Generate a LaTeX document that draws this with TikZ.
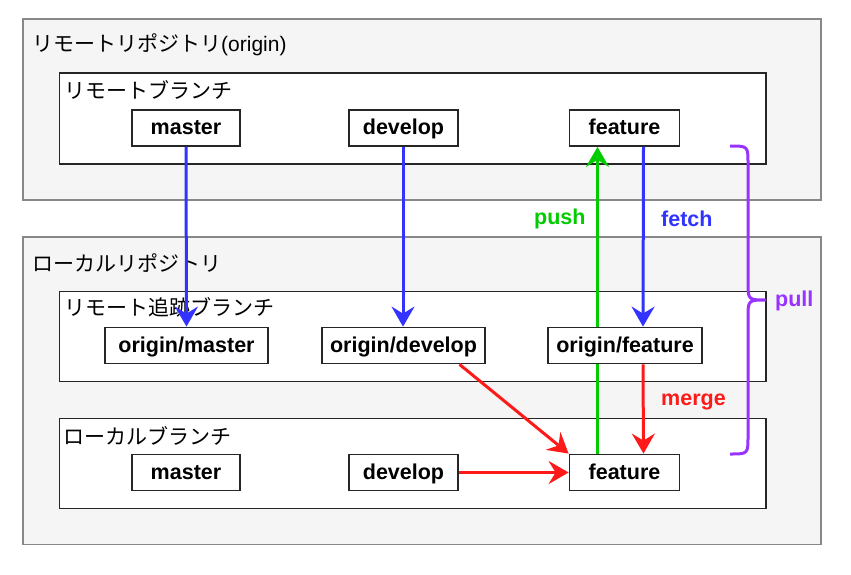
\documentclass[tikz,border=0pt]{standalone}
\usepackage{fontspec}
\setmainfont{Liberation Sans}
\newfontfamily\jp{Noto Sans CJK JP}
\usetikzlibrary{arrows.meta,calc}
\definecolor{cgreen}{HTML}{00CC00}
\definecolor{cblue}{HTML}{3333FF}
\definecolor{cred}{HTML}{FF1A1A}
\definecolor{cpurple}{HTML}{9933FF}
\definecolor{cgrayfill}{HTML}{F5F5F5}
\definecolor{cgrayline}{HTML}{888888}
\pgfdeclarelayer{bg}
\pgfdeclarelayer{mid}
\pgfsetlayers{bg,mid,main}
\tikzset{
  repo/.style={draw=cgrayline,fill=cgrayfill,line width=1.6pt},
  group/.style={draw=black!85,fill=white,line width=1.8pt},
  branch/.style={draw=black!85,fill=white,line width=1.8pt,minimum height=36pt,
    inner sep=0pt,text height=17pt,text depth=3pt,
    font=\fontsize{21.5}{25}\selectfont\bfseries},
  title/.style={anchor=west,inner sep=0pt,font=\fontsize{21}{25}\selectfont},
  lbl/.style={anchor=west,inner sep=0pt,font=\fontsize{21.5}{25}\selectfont\bfseries},
  conn/.style={line width=3pt,-{Stealth[length=20pt,width=23pt,inset=7pt]}},
}
\begin{document}
\begin{tikzpicture}[x=1pt,y=-1pt]
\useasboundingbox (0,0) rectangle (851,575);
% branch nodes
\node[branch,minimum width=108pt] (rm) at (186,128) {master};
\node[branch,minimum width=109pt] (rd) at (403.5,128) {develop};
\node[branch,minimum width=110pt] (rf) at (624.5,128) {feature};
\node[branch,minimum width=163pt] (om) at (186.5,345.5) {origin/master};
\node[branch,minimum width=163pt] (od) at (403.5,345.5) {origin/develop};
\node[branch,minimum width=154pt] (of) at (625,345.5) {origin/feature};
\node[branch,minimum width=108pt] (lm) at (186,472.5) {master};
\node[branch,minimum width=109pt] (ld) at (403.5,472.5) {develop};
\node[branch,minimum width=110pt] (lf) at (624.5,472.5) {feature};
\begin{pgfonlayer}{bg}
  \draw[repo] (23,19) rectangle (821,200);
  \draw[repo] (23,237) rectangle (821,544.5);
  \draw[group] (59.5,73) rectangle (766,164);
  \draw[group] (59.5,291.5) rectangle (766,381.5);
  \draw[group] (59.5,418.5) rectangle (766,508.5);
  \node[title] (t1) at (32,45) {{\jp リモートリポジトリ}(origin)};
  \node[title] (t2) at (32,263) {\jp ローカルリポジトリ};
  \node[title] (t3) at (64,90) {\jp リモートブランチ};
  \node[title] (t4) at (64,307) {\jp リモート追跡ブランチ};
  \node[title] (t5) at (63,436) {\jp ローカルブランチ};
\end{pgfonlayer}
\begin{pgfonlayer}{mid}
  \draw[conn,cgreen] ([xshift=-27pt]lf.north) -- ([xshift=-27pt]rf.south);
\end{pgfonlayer}
% arrows
\draw[conn,cblue] (rm.south) -- (om.north);
\draw[conn,cblue] ([xshift=-0.5pt]rd.south) -- ([xshift=-0.5pt]od.north);
\draw[conn,cblue] ([xshift=19pt]rf.south) -- ([xshift=18pt]of.north);
\draw[conn,cred] ([xshift=18pt]of.south) -- ([xshift=19pt]lf.north);
\draw[conn,cred] ([xshift=56pt]od.south) -- (lf.north west);
\draw[conn,cred] (ld.east) -- (lf.west);
% labels
\node[lbl,text=cgreen] (push) at (534,219) {push};
\node[lbl,text=cblue] (fetch) at (661,219) {fetch};
\node[lbl,text=cred] (merge) at (661,402) {merge};
\node[lbl,text=cpurple] (pull) at (775,301) {pull};
% brace
\coordinate (bt) at (730,146);
\coordinate (bm) at (766,300);
\coordinate (bb) at (730,454);
\draw[cpurple,line width=3pt]
  (bt) .. controls (748,146) .. (748,164) -- (748,282)
  .. controls (748,300) .. (bm)
  .. controls (748,300) .. (748,318) -- (748,436)
  .. controls (748,454) .. (bb);
\end{tikzpicture}
\end{document}
